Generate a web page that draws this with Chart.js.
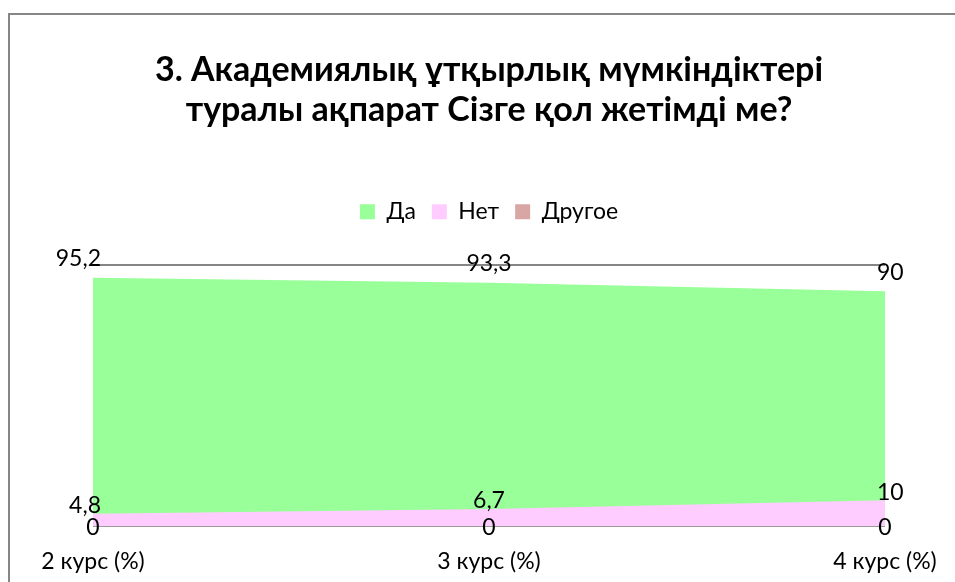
<!DOCTYPE html>
<html>
<head>
<meta charset="utf-8">
<script src="https://cdn.jsdelivr.net/npm/chart.js@4.4.1/dist/chart.umd.min.js"></script>
<style>
  html, body { margin: 0; padding: 0; background: #fff; }
  #wrap { position: relative; width: 955px; height: 582px; overflow: hidden; }
  #frame { position: absolute; left: 8px; top: 13px; width: 1000px; height: 700px;
           border-left: 2px solid #868686; border-top: 2px solid #868686; }
  #areaChart { position: absolute; left: 0; top: 0; }
</style>
</head>
<body>
<div id="wrap">
  <div id="frame"></div>
  <canvas id="areaChart" width="955" height="582"></canvas>
</div>
<script>
  let courses = ['2 курс (%)', '3 курс (%)', '4 курс (%)'];
  let yes = [95.2, 93.3, 90];
  let no = [4.8, 6.7, 10];
  let other = [0, 0, 0];

  let font = 'Lato, "Open Sans", sans-serif';

  // data labels, written with a decimal comma like the original
  let valueLabels = {
    id: 'valueLabels',
    afterDatasetsDraw(chart) {
      let ctx = chart.ctx;
      let shifts = [-19, -8, 1];
      ctx.save();
      ctx.font = '23px ' + font;
      ctx.fillStyle = '#000';
      ctx.textBaseline = 'middle';
      chart.data.datasets.forEach(function(ds, i) {
        let meta = chart.getDatasetMeta(i);
        meta.data.forEach(function(pt, j) {
          let x = pt.x;
          ctx.textAlign = 'center';
          if (i < 2 && j === 0) { ctx.textAlign = 'right'; x += 8; }
          if (i < 2 && j === meta.data.length - 1) { ctx.textAlign = 'left'; x -= 8; }
          ctx.fillText(String(ds.data[j]).replace('.', ','), x, pt.y + shifts[i]);
        });
      });
      ctx.restore();
    }
  };

  // extra room under the legend
  let legendGap = {
    id: 'legendGap',
    beforeInit(chart) {
      let fit = chart.legend.fit;
      chart.legend.fit = function() {
        fit.bind(chart.legend)();
        this.height += 32;
      };
    }
  };

  let ctx = document.getElementById('areaChart').getContext('2d');
  let areaChart = new Chart(ctx, {
    type: 'line',
    data: {
      labels: courses,
      datasets: [{
        label: 'Да',
        data: yes,
        backgroundColor: '#99FF99',
        borderWidth: 0,
        pointRadius: 0,
        fill: 'origin',
        order: 2
      }, {
        label: 'Нет',
        data: no,
        backgroundColor: '#FFCCFF',
        borderWidth: 0,
        pointRadius: 0,
        fill: 'origin',
        order: 1
      }, {
        label: 'Другое',
        data: other,
        backgroundColor: '#D9A6A6',
        borderWidth: 0,
        pointRadius: 0,
        fill: 'origin',
        order: 0
      }]
    },
    options: {
      responsive: false,
      animation: false,
      layout: { padding: { left: 93, right: 70, top: 0, bottom: 7 } },
      plugins: {
        title: {
          display: true,
          text: ['3. Академиялық ұтқырлық мүмкіндіктері', 'туралы ақпарат Сізге қол жетімді ме?'],
          color: '#000',
          font: { family: font, size: 34, weight: 'bold', lineHeight: 1.18 },
          padding: { top: 50, bottom: 54 }
        },
        legend: {
          position: 'top',
          labels: {
            color: '#000',
            font: { family: font, size: 23 },
            boxWidth: 15,
            boxHeight: 15,
            padding: 16,
            sort: function(a, b) { return a.datasetIndex - b.datasetIndex; }
          }
        },
        tooltip: { enabled: false }
      },
      scales: {
        x: {
          offset: false,
          grid: { display: false, tickLength: 21 },
          border: { display: false },
          ticks: { color: '#000', font: { family: font, size: 23 }, padding: 0, maxRotation: 0 }
        },
        y: {
          min: 0,
          max: 100,
          border: { display: false },
          grid: { color: '#868686', lineWidth: 2, drawTicks: false },
          ticks: { display: false, stepSize: 100 }
        }
      }
    },
    plugins: [valueLabels, legendGap]
  });
</script>
</body>
</html>
